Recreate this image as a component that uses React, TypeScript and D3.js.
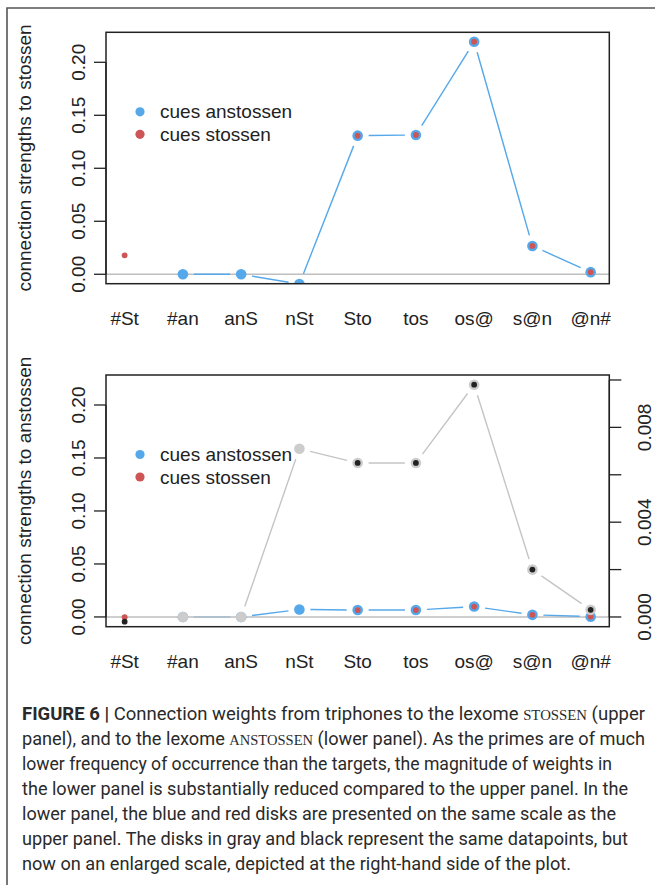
import React, { useEffect, useRef } from "react";
import * as d3 from "d3";

const cues = ["#St", "#an", "anS", "nSt", "Sto", "tos", "os@", "s@n", "@n#"];
const anstossenCues = ["#an", "anS", "nSt", "Sto", "tos", "os@", "s@n", "@n#"];
const stossenCues = ["#St", "Sto", "tos", "os@", "s@n", "@n#"];
// weights of each cue to the lexome
const strengthsToStossen = [0.0179, 0, 0, -0.0092, 0.1308, 0.1314, 0.2194, 0.0267, 0.002];
const strengthsToAnstossen = [-0.0002, 0, 0, 0.0071, 0.0065, 0.0065, 0.0098, 0.002, 0.0003];
const leftTicks = [0, 0.05, 0.1, 0.15, 0.2];
const rightTicks = [0, 0.002, 0.004, 0.006, 0.008, 0.01];
const rightLabels = ["0.000", "", "0.004", "", "0.008", ""];
const legendLabels = ["cues anstossen", "cues stossen"];

const captionLines = [
  [["FIGURE 6 | ", "b"], ["Connection weights from triphones to the lexome ", ""], ["STOSSEN", "sc"], [" (upper", ""]],
  [["panel), and to the lexome ", ""], ["ANSTOSSEN", "sc"], [" (lower panel). As the primes are of much", ""]],
  [["lower frequency of occurrence than the targets, the magnitude of weights in", ""]],
  [["the lower panel is substantially reduced compared to the upper panel. In the", ""]],
  [["lower panel, the blue and red disks are presented on the same scale as the", ""]],
  [["upper panel. The disks in gray and black represent the same datapoints, but", ""]],
  [["now on an enlarged scale, depicted at the right-hand side of the plot.", ""]],
];
const captionEnds = [645, 645, 612, 628, 616, 628, 571];

const BLUE = "#55A8EA";
const RED = "#CD5555";
const GRAY = "#CCCCCC";
const BLACK = "#222222";
const FONT = "'Liberation Sans', Arial, Helvetica, sans-serif";

// R type="b": segments between points, with a gap around each point
function trimmedSegments(pts, gap) {
  const segs = [];
  for (let i = 0; i < pts.length - 1; i++) {
    const [x1, y1] = pts[i];
    const [x2, y2] = pts[i + 1];
    const len = Math.hypot(x2 - x1, y2 - y1);
    if (len <= 2 * gap) continue;
    const ux = (x2 - x1) / len, uy = (y2 - y1) / len;
    segs.push([x1 + ux * gap, y1 + uy * gap, x2 - ux * gap, y2 - uy * gap]);
  }
  return segs;
}

export default function App() {
  const ref = useRef(null);

  useEffect(() => {
    const svg = d3.select(ref.current);
    svg.selectAll("*").remove();

    const W = 655, H = 885;
    const left = 106, right = 609.3;

    svg.append("rect").attr("width", W).attr("height", H).attr("fill", "#fff");
    // figure frame
    svg.append("path")
      .attr("d", `M7,${H} L7,8 L${W},8`)
      .attr("fill", "none").attr("stroke", "#555").attr("stroke-width", 1.6);

    const x = d3.scaleLinear().domain([0.68, 9.32]).range([left, right]);

    function panel(id, top, bottom, weights, title, enlarged) {
      const y = d3.scaleLinear().domain([enlarged ? -0.0092 : -0.0089, 0.2283]).range([bottom, top]);
      const g = svg.append("g");

      g.append("clipPath").attr("id", id)
        .append("rect").attr("x", left).attr("y", top).attr("width", right - left).attr("height", bottom - top);
      const plot = g.append("g").attr("clip-path", `url(#${id})`);

      // zero line
      plot.append("line")
        .attr("x1", left).attr("x2", right).attr("y1", y(0)).attr("y2", y(0))
        .attr("stroke", "#BEBEBE").attr("stroke-width", 1.5);

      const drawSeries = (scale, lineColor, outerColor, innerColor) => {
        const all = cues.map((c, i) => ({ c, i, v: weights[i] }));
        const aPts = all.filter(d => anstossenCues.includes(d.c));
        const sPts = all.filter(d => stossenCues.includes(d.c));
        const segs = trimmedSegments(aPts.map(d => [x(d.i + 1), scale(d.v)]), 11);
        plot.selectAll(null).data(segs).enter().append("line")
          .attr("x1", d => d[0]).attr("y1", d => d[1]).attr("x2", d => d[2]).attr("y2", d => d[3])
          .attr("stroke", lineColor).attr("stroke-width", 1.4);
        plot.selectAll(null).data(aPts).enter().append("circle")
          .attr("cx", d => x(d.i + 1)).attr("cy", d => scale(d.v)).attr("r", 5.3).attr("fill", outerColor);
        plot.selectAll(null).data(sPts).enter().append("circle")
          .attr("cx", d => x(d.i + 1)).attr("cy", d => scale(d.v)).attr("r", 2.9).attr("fill", innerColor);
      };

      drawSeries(y, BLUE, BLUE, RED);

      if (enlarged) {
        const y2 = d3.scaleLinear().domain([-0.00041, 0.01021]).range([bottom, top]);
        drawSeries(y2, "#C4C4C4", GRAY, BLACK);

        const ra = g.append("g").attr("transform", `translate(${right},0)`);
        ra.append("line").attr("x1", 0).attr("x2", 0)
          .attr("y1", y2(rightTicks[0])).attr("y2", y2(rightTicks[rightTicks.length - 1]))
          .attr("stroke", "#222").attr("stroke-width", 1.3);
        ra.selectAll(null).data(rightTicks).enter().append("line")
          .attr("x1", 0).attr("x2", 12).attr("y1", d => y2(d)).attr("y2", d => y2(d))
          .attr("stroke", "#222").attr("stroke-width", 1.3);
        ra.selectAll(null).data(rightTicks).enter().append("text")
          .attr("transform", d => `translate(42,${y2(d)}) rotate(-90)`)
          .attr("text-anchor", "middle")
          .attr("font-family", FONT).attr("font-size", 19).attr("fill", "#222")
          .text((d, i) => rightLabels[i]);
      }

      // box
      g.append("rect").attr("x", left).attr("y", top).attr("width", right - left).attr("height", bottom - top)
        .attr("fill", "none").attr("stroke", "#222").attr("stroke-width", 1.5);

      // left axis
      g.append("line").attr("x1", left).attr("x2", left)
        .attr("y1", y(leftTicks[0])).attr("y2", y(leftTicks[leftTicks.length - 1]))
        .attr("stroke", "#222").attr("stroke-width", 1.3);
      g.selectAll(null).data(leftTicks).enter().append("line")
        .attr("x1", left - 12).attr("x2", left).attr("y1", d => y(d)).attr("y2", d => y(d))
        .attr("stroke", "#222").attr("stroke-width", 1.3);
      g.selectAll(null).data(leftTicks).enter().append("text")
        .attr("transform", d => `translate(85,${y(d)}) rotate(-90)`)
        .attr("text-anchor", "middle")
        .attr("font-family", FONT).attr("font-size", 19).attr("fill", "#222")
        .text(d => d3.format(".2f")(d));

      // x labels
      g.selectAll(null).data(cues).enter().append("text")
        .attr("x", (d, i) => x(i + 1)).attr("y", bottom + 41)
        .attr("text-anchor", "middle")
        .attr("font-family", FONT).attr("font-size", 19).attr("fill", "#222")
        .text(d => d);

      // y title
      g.append("text")
        .attr("transform", `translate(31,${(top + bottom) / 2}) rotate(-90)`)
        .attr("text-anchor", "middle")
        .attr("font-family", FONT).attr("font-size", 19).attr("fill", "#222")
        .text(title);

      // legend
      const lg = g.append("g");
      const ly = top + 79.5;
      lg.selectAll(null).data(legendLabels).enter().append("circle")
        .attr("cx", 140).attr("cy", (d, i) => ly + i * 22.5).attr("r", 4.6)
        .attr("fill", (d, i) => (i === 0 ? BLUE : RED));
      lg.selectAll(null).data(legendLabels).enter().append("text")
        .attr("x", 160).attr("y", (d, i) => ly + i * 22.5 + 6.5)
        .attr("font-family", FONT).attr("font-size", 19).attr("fill", "#222")
        .text(d => d);
    }

    panel("clipUp", 32.3, 283.7, strengthsToStossen, "connection strengths to stossen", false);
    panel("clipLow", 375, 626.7, strengthsToAnstossen, "connection strengths to anstossen", true);

    // caption
    const cap = svg.append("g");
    captionLines.forEach((parts, k) => {
      const t = cap.append("text")
        .attr("x", 22).attr("y", 720 + k * 25)
        .attr("font-family", "Roboto, 'Liberation Sans', sans-serif")
        .attr("font-size", 17.5).attr("fill", "#2a2a2a")
        .attr("textLength", captionEnds[k] - 22)
        .attr("lengthAdjust", "spacingAndGlyphs");
      parts.forEach(([txt, st]) => {
        const s = t.append("tspan").text(txt);
        if (st === "b") s.attr("font-weight", 700);
        if (st === "sc") s.attr("font-family", "'Liberation Serif', serif").attr("font-size", 14);
      });
    });
  }, []);

  return (
    <div style={{ position: "absolute", left: 0, top: 0 }}>
      <svg ref={ref} width={655} height={885} style={{ display: "block" }} />
    </div>
  );
}
